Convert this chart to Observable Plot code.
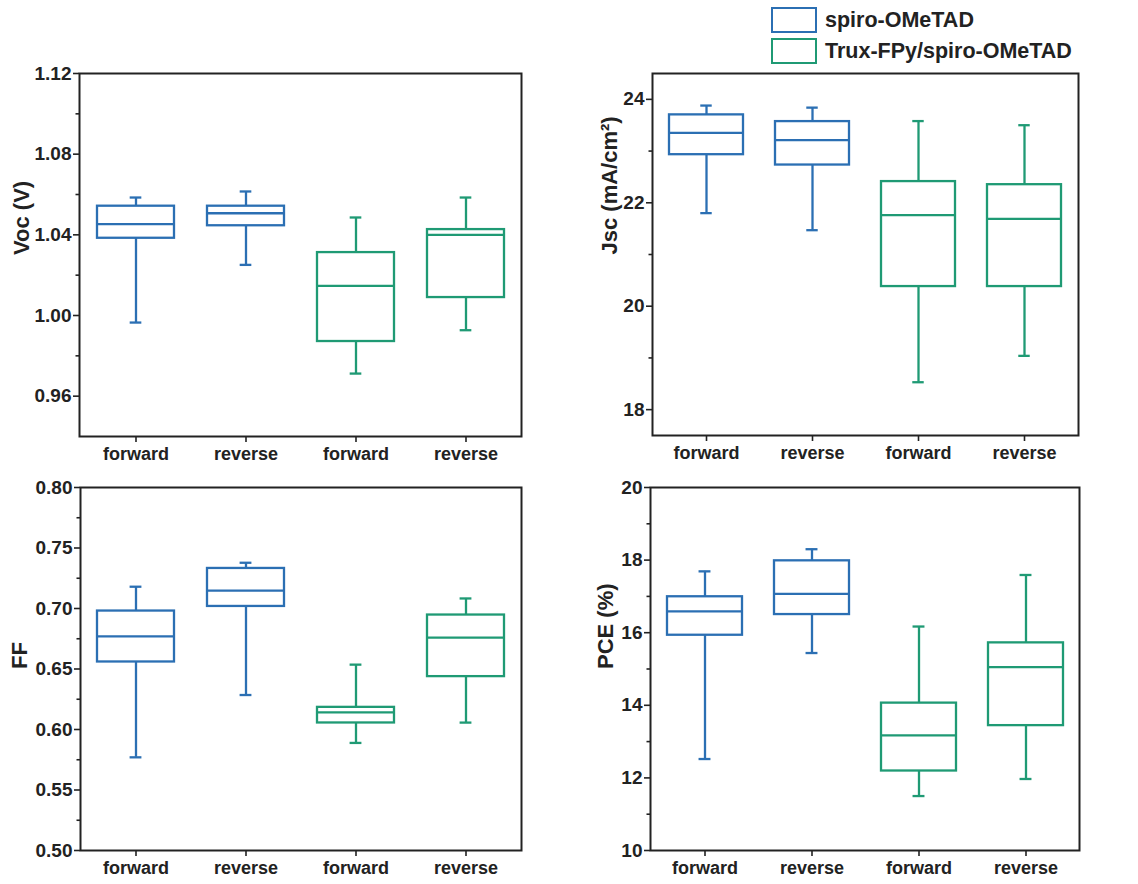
<!DOCTYPE html>
<html>
<head>
<meta charset="utf-8">
<script src="https://cdn.jsdelivr.net/npm/d3@7"></script>
<script src="https://cdn.jsdelivr.net/npm/@observablehq/plot@0.6"></script>
<style>
  body { margin: 0; background: #fff; }
  #chart { position: relative; width: 1138px; height: 884px; overflow: hidden;
           font-family: "Liberation Sans", Arial, sans-serif; font-weight: bold; color: #222; }
  .panel { position: absolute; }
  .legend-row { position: absolute; left: 771px; display: flex; align-items: center; height: 26px; }
  .swatch { box-sizing: border-box; width: 46px; height: 26px; border: 2.5px solid; background: #fff; }
  .legend-row span { margin-left: 8px; font-size: 21.5px; white-space: nowrap; }
</style>
</head>
<body>
<div id="chart"></div>
<script>
// Scan direction of each box, left to right
const scans = ["forward", "reverse", "forward", "reverse"];
// Hole-transport layer of each box
const layers = ["spiro-OMeTAD", "spiro-OMeTAD", "Trux-FPy/spiro-OMeTAD", "Trux-FPy/spiro-OMeTAD"];
const layerNames = ["spiro-OMeTAD", "Trux-FPy/spiro-OMeTAD"];
const layerColors = ["#2b6fb3", "#1f9a74"];

// Box summaries per device: [lower whisker, Q1, median, Q3, upper whisker]
const voc = [
  [0.9965, 1.0383, 1.0453, 1.0542, 1.0585],
  [1.0251, 1.0445, 1.0507, 1.0542, 1.0615],
  [0.9712, 0.9871, 1.0147, 1.0312, 1.0486],
  [0.9927, 1.0089, 1.0400, 1.0426, 1.0585]
];
const jsc = [
  [21.80, 22.93, 23.35, 23.70, 23.88],
  [21.47, 22.73, 23.21, 23.57, 23.84],
  [18.53, 20.38, 21.76, 22.41, 23.58],
  [19.04, 20.38, 21.69, 22.35, 23.50]
];
const ff = [
  [0.577, 0.6558, 0.677, 0.6979, 0.718],
  [0.6285, 0.7017, 0.7147, 0.7331, 0.7378],
  [0.5889, 0.6054, 0.6142, 0.6183, 0.6536],
  [0.6057, 0.6437, 0.6759, 0.6946, 0.7083]
];
const pce = [
  [12.52, 15.93, 16.59, 16.99, 17.69],
  [15.44, 16.50, 17.07, 17.98, 18.30],
  [11.50, 12.19, 13.17, 14.06, 16.17],
  [11.97, 13.44, 15.05, 15.72, 17.59]
];

// Axis ticks
const vocTicks = [0.96, 1.00, 1.04, 1.08, 1.12];
const vocMinor = [0.98, 1.02, 1.06, 1.10];
const jscTicks = [18, 20, 22, 24];
const jscMinor = [19, 21, 23];
const ffTicks = [0.50, 0.55, 0.60, 0.65, 0.70, 0.75, 0.80];
const ffMinor = [0.525, 0.575, 0.625, 0.675, 0.725, 0.775];
const pceTicks = [10, 12, 14, 16, 18, 20];
const pceMinor = [11, 13, 15, 17, 19];

const panels = [
  {values: voc, label: "Voc (V)", domain: [0.94, 1.12], ticks: vocTicks, minor: vocMinor, fmt: d3.format(".2f"),
   left: 0, top: 60, width: 540, height: 410, mt: 13, mb: 34, ml: 79, mr: 19, labelDx: -58},
  {values: jsc, label: "Jsc (mA/cm²)", domain: [17.5, 24.5], ticks: jscTicks, minor: jscMinor, fmt: d3.format("d"),
   left: 560, top: 60, width: 540, height: 410, mt: 13, mb: 35, ml: 92, mr: 22, labelDx: -43},
  {values: ff, label: "FF", domain: [0.5, 0.8], ticks: ffTicks, minor: ffMinor, fmt: d3.format(".2f"),
   left: 0, top: 470, width: 540, height: 414, mt: 17, mb: 34, ml: 80, mr: 19, labelDx: -61},
  {values: pce, label: "PCE (%)", domain: [10, 20], ticks: pceTicks, minor: pceMinor, fmt: d3.format("d"),
   left: 560, top: 470, width: 540, height: 414, mt: 17, mb: 34, ml: 90, mr: 21, labelDx: -45}
];

const chart = document.getElementById("chart");
const padInner = 0.3;
const capWidth = 12;

for (const p of panels) {
  const rows = p.values.map((s, i) => ({key: i, scan: scans[i], layer: layers[i],
    lo: s[0], q1: s[1], med: s[2], q3: s[3], hi: s[4]}));
  const step = (p.width - p.ml - p.mr) / rows.length;
  const capInset = (step * (1 - padInner) - capWidth) / 2;
  const line = {stroke: "layer", strokeWidth: 2.3};

  const svg = Plot.plot({
    width: p.width, height: p.height,
    marginTop: p.mt, marginBottom: p.mb, marginLeft: p.ml, marginRight: p.mr,
    style: {fontFamily: "'Liberation Sans', Arial, sans-serif", fontWeight: "bold", fontSize: "18px",
            color: "#222", background: "transparent", overflow: "visible"},
    x: {type: "band", domain: rows.map(d => d.key), paddingInner: padInner, paddingOuter: padInner / 2, label: null},
    y: {domain: p.domain, label: null},
    color: {domain: layerNames, range: layerColors},
    marks: [
      Plot.ruleX(rows, {x: "key", y1: "lo", y2: "q1", ...line}),
      Plot.ruleX(rows, {x: "key", y1: "q3", y2: "hi", ...line}),
      Plot.tickY(rows, {x: "key", y: "lo", ...line, insetLeft: capInset, insetRight: capInset}),
      Plot.tickY(rows, {x: "key", y: "hi", ...line, insetLeft: capInset, insetRight: capInset}),
      Plot.barY(rows, {x: "key", y1: "q1", y2: "q3", fill: "white", ...line}),
      Plot.tickY(rows, {x: "key", y: "med", ...line}),
      Plot.axisY({ticks: p.ticks, tickFormat: p.fmt, tickSize: 6, tickPadding: 2, label: null,
                  fontSize: 19, strokeWidth: 1.6}),
      Plot.axisY({ticks: p.minor, tickFormat: () => "", tickSize: 3.5, label: null, strokeWidth: 1.6}),
      Plot.axisX({tickSize: 6, tickPadding: 5, tickFormat: k => scans[k], label: null, strokeWidth: 1.6}),
      Plot.frame({stroke: "#222", strokeWidth: 2}),
      Plot.text([p.label], {frameAnchor: "left", text: d => d, rotate: -90, dx: p.labelDx,
                            fontSize: 22, fontWeight: "bold", fill: "#222"})
    ]
  });
  svg.classList.add("panel");
  svg.style.left = p.left + "px";
  svg.style.top = p.top + "px";
  chart.appendChild(svg);
}

// Legend: outlined swatches, top right
layerNames.forEach((name, i) => {
  const row = document.createElement("div");
  row.className = "legend-row";
  row.style.top = (7 + i * 31) + "px";
  const sw = document.createElement("div");
  sw.className = "swatch";
  sw.style.borderColor = layerColors[i];
  const label = document.createElement("span");
  label.textContent = name;
  row.appendChild(sw);
  row.appendChild(label);
  chart.appendChild(row);
});
</script>
</body>
</html>
